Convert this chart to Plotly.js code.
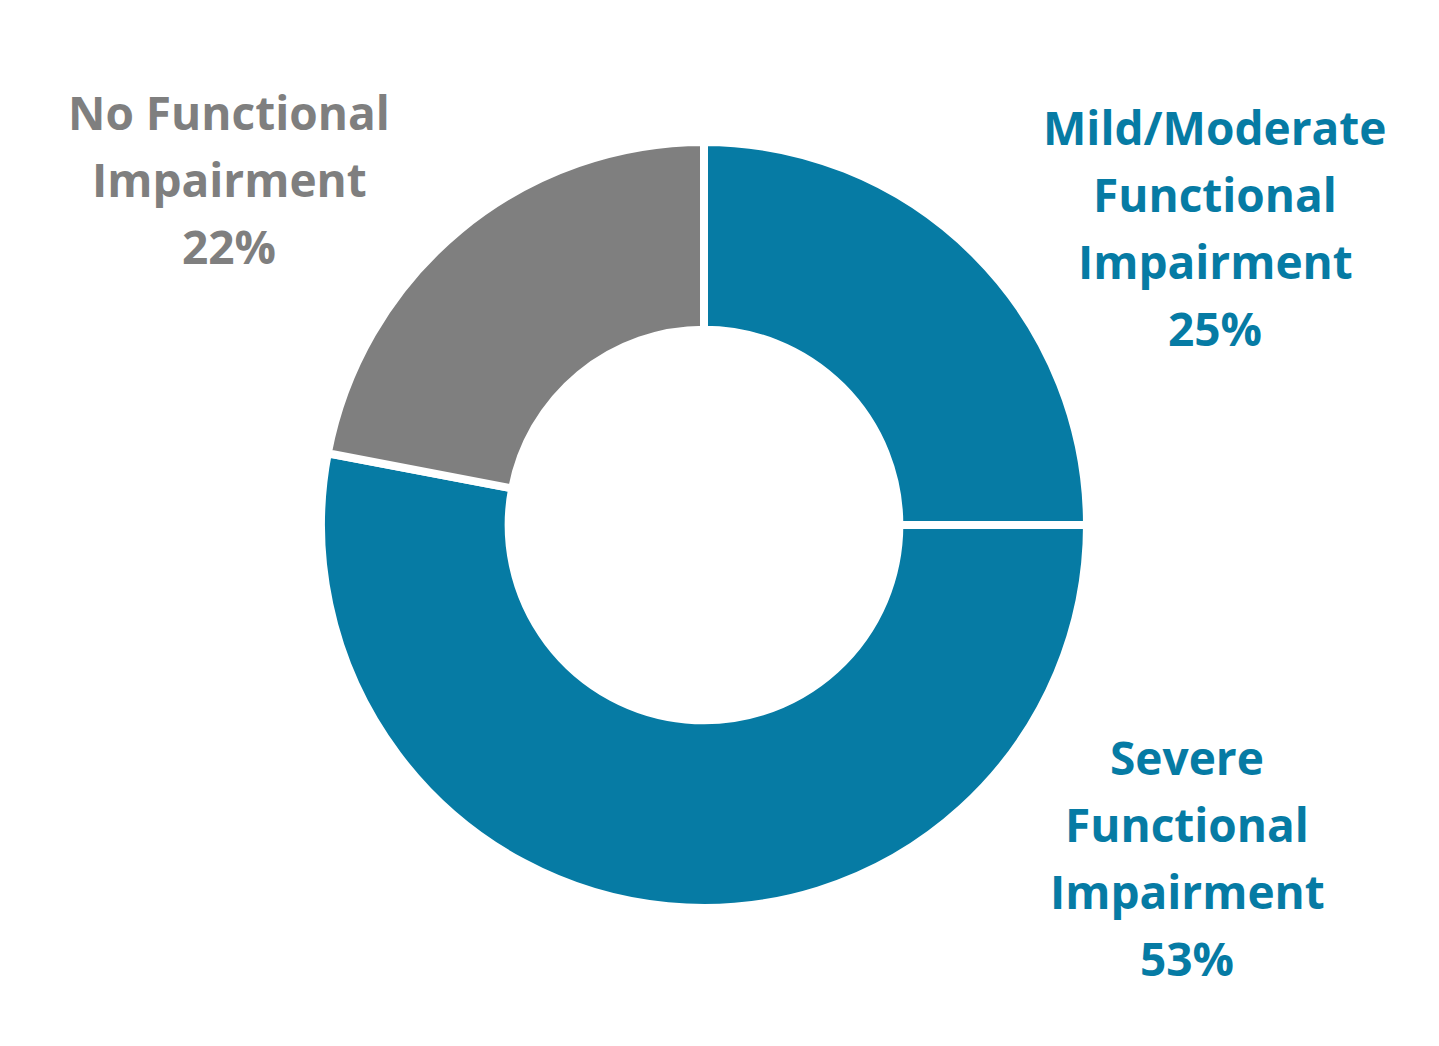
<!DOCTYPE html>
<html>
<head>
<meta charset="utf-8">
<script src="https://cdn.plot.ly/plotly-3.0.1.min.js"></script>
<style>
  html, body { margin: 0; padding: 0; background: #fff; }
  #chart { width: 1439px; height: 1046px; }
</style>
</head>
<body>
<div id="chart"></div>
<script>
// Functional impairment split
const categories = ['Mild/Moderate Functional Impairment', 'Severe Functional Impairment', 'No Functional Impairment'];
const labelLines = [
    ['Mild/Moderate', 'Functional', 'Impairment'],
    ['Severe', 'Functional', 'Impairment'],
    ['No Functional', 'Impairment']
];
const shares = [25, 53, 22];
const sliceColors = ['#067ba4', '#067ba4', '#7f7f7f'];

// label block placement (paper px, top line centre)
const labelSpots = [
    { x: 1215, y: 127 },
    { x: 1187, y: 757 },
    { x: 229, y: 112 }
];
const lineGap = 67;
const W = 1439, H = 1046;

const trace = {
    type: 'pie',
    labels: categories,
    values: shares,
    sort: false,
    direction: 'clockwise',
    rotation: 0,
    hole: 0.51,
    textinfo: 'none',
    hoverinfo: 'label+percent',
    marker: { colors: sliceColors, line: { color: '#ffffff', width: 8 } },
    domain: { x: [321 / W, 1087 / W], y: [(H - 908) / H, (H - 142) / H] },
    showlegend: false
};

const annotations = [];
categories.forEach((cat, i) => {
    const lines = labelLines[i].concat([shares[i] + '%']);
    lines.forEach((txt, j) => {
        annotations.push({
            xref: 'paper', yref: 'paper',
            x: labelSpots[i].x / W,
            y: 1 - (labelSpots[i].y + j * lineGap) / H,
            xanchor: 'center', yanchor: 'middle',
            text: '<b>' + txt + '</b>',
            showarrow: false,
            font: { family: '"Open Sans", sans-serif', size: 46, color: sliceColors[i] }
        });
    });
});

const layout = {
    width: W,
    height: H,
    margin: { l: 0, r: 0, t: 0, b: 0 },
    paper_bgcolor: '#ffffff',
    plot_bgcolor: '#ffffff',
    annotations: annotations
};

Plotly.newPlot('chart', [trace], layout, { displayModeBar: false, staticPlot: true });
</script>
</body>
</html>
